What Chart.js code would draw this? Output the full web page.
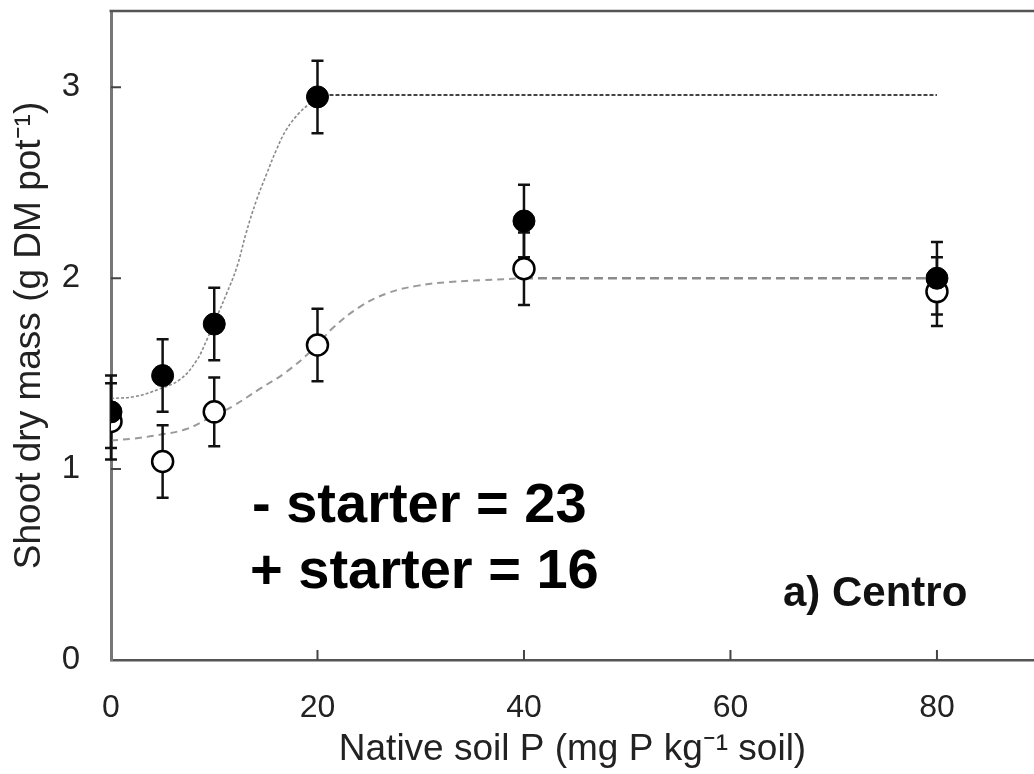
<!DOCTYPE html>
<html>
<head>
<meta charset="utf-8">
<script src="https://cdn.jsdelivr.net/npm/chart.js@4/dist/chart.umd.min.js"></script>
<style>
html,body{margin:0;padding:0;background:#fff;overflow:hidden;}
#wrap{width:1034px;height:774px;position:relative;}
canvas{display:block;}
</style>
</head>
<body>
<div id="wrap"><canvas id="c" width="1034" height="774"></canvas></div>
<script>
// ---- data ----
const soilP = [0, 5, 10, 20, 40, 80];
const withStarter = [1.30, 1.49, 1.76, 2.95, 2.30, 2.00];      // filled circles
const withStarterErr = [0.19, 0.19, 0.19, 0.19, 0.19, 0.19];
const noStarter = [1.25, 1.04, 1.30, 1.65, 2.05, 1.93];        // open circles
const noStarterErr = [0.20, 0.19, 0.18, 0.19, 0.19, 0.18];

const filledCurveX = [0, 2.3, 4.7, 6.7, 8.3, 9.3, 10.1, 11.2, 12.2, 13.1, 14.1, 15.1, 16.0, 17.0, 18.3, 19.6, 20];
const filledCurveY = [1.37, 1.38, 1.42, 1.47, 1.57, 1.68, 1.78, 1.92, 2.06, 2.24, 2.41, 2.55, 2.67, 2.78, 2.87, 2.93, 2.95];
const filledPlateauX = [20, 80];
const filledPlateauY = [2.96, 2.96];

const openCurveX = [0, 2.2, 4.7, 7.3, 9.6, 11.8, 14.4, 17.0, 19.6, 21.5, 24.1, 26.7, 29.6, 32.8, 36, 40];
const openCurveY = [1.15, 1.16, 1.18, 1.21, 1.27, 1.33, 1.42, 1.51, 1.63, 1.74, 1.85, 1.92, 1.96, 1.98, 1.99, 2.00];
const openPlateauX = [40, 80];
const openPlateauY = [2.00, 2.00];

const xTicks = [0, 20, 40, 60, 80];
const yTicks = [0, 1, 2, 3];
const xInnerTicks = [20, 40, 60, 80];
const yInnerTicks = [1, 2, 3];

const xTitle = 'Native soil P (mg P kg\u207B\u00B9 soil)';
const yTitle = 'Shoot dry mass (g DM pot\u207B\u00B9)';
const noteLines = ['- starter = 23', '+ starter = 16'];
const panelLabel = 'a) Centro';

const pts = (xs, ys) => xs.map((x, i) => ({x: x, y: ys[i]}));
const FONT = "'Liberation Sans', Arial, Helvetica, sans-serif";

const errorBars = {
  id: 'errorBars',
  beforeDatasetDraw(chart, args) {
    if (args.index !== 1) return; // draw all bars just before open points
    const ctx = chart.ctx, xs = chart.scales.x, ys = chart.scales.y;
    ctx.save();
    ctx.strokeStyle = '#111';
    ctx.lineWidth = 2.5;
    const draw = (vals, errs) => {
      soilP.forEach((x, i) => {
        const px = xs.getPixelForValue(x);
        const top = ys.getPixelForValue(vals[i] + errs[i]);
        const bot = ys.getPixelForValue(vals[i] - errs[i]);
        ctx.beginPath();
        ctx.moveTo(px, top); ctx.lineTo(px, bot);
        ctx.moveTo(px - 6, top); ctx.lineTo(px + 6, top);
        ctx.moveTo(px - 6, bot); ctx.lineTo(px + 6, bot);
        ctx.stroke();
      });
    };
    draw(noStarter, noStarterErr);
    draw(withStarter, withStarterErr);
    ctx.restore();
  }
};

const frameAndText = {
  id: 'frameAndText',
  afterDraw(chart) {
    const ctx = chart.ctx, a = chart.chartArea, xs = chart.scales.x, ys = chart.scales.y;
    ctx.save();
    // top frame line
    ctx.strokeStyle = '#555';
    ctx.lineWidth = 2.5;
    ctx.beginPath();
    ctx.moveTo(a.left - 1.5, a.top); ctx.lineTo(a.right, a.top);
    ctx.stroke();
    // inward tick marks
    ctx.lineWidth = 2;
    ctx.strokeStyle = '#444';
    ctx.beginPath();
    xInnerTicks.forEach(v => {
      const px = xs.getPixelForValue(v);
      ctx.moveTo(px, a.bottom); ctx.lineTo(px, a.bottom - 10);
    });
    yInnerTicks.forEach(v => {
      const py = ys.getPixelForValue(v);
      ctx.moveTo(a.left, py); ctx.lineTo(a.left + 10, py);
    });
    ctx.stroke();
    // annotation text
    ctx.fillStyle = '#000';
    ctx.textAlign = 'left';
    ctx.textBaseline = 'alphabetic';
    ctx.font = 'bold 56px ' + FONT;
    ctx.fillText(noteLines[0], 252, 522);
    ctx.fillText(noteLines[1], 250, 588);
    ctx.font = 'bold 42px ' + FONT;
    ctx.fillStyle = '#111';
    ctx.fillText(panelLabel, 783, 606);
    ctx.restore();
  }
};

new Chart(document.getElementById('c'), {
  type: 'scatter',
  data: {
    datasets: [
      { label: '+ starter', data: pts(soilP, withStarter), order: 0,
        pointRadius: 11, pointHoverRadius: 11, pointBackgroundColor: '#000', pointBorderColor: '#000', pointBorderWidth: 1, showLine: false },
      { label: '- starter', data: pts(soilP, noStarter), order: 1,
        pointRadius: 10.5, pointHoverRadius: 10.5, pointBackgroundColor: '#fff', pointBorderColor: '#000', pointBorderWidth: 2.5, showLine: false },
      { label: 'fit +', data: pts(filledCurveX, filledCurveY), order: 2, showLine: true, pointRadius: 0,
        borderColor: '#8a8a8a', borderWidth: 1.6, borderDash: [3, 2], tension: 0.4 },
      { label: 'plateau +', data: pts(filledPlateauX, filledPlateauY), order: 3, showLine: true, pointRadius: 0,
        borderColor: '#444', borderWidth: 2, borderDash: [4, 2] },
      { label: 'fit -', data: pts(openCurveX, openCurveY), order: 4, showLine: true, pointRadius: 0,
        borderColor: '#9a9a9a', borderWidth: 2, borderDash: [7, 5], tension: 0.4 },
      { label: 'plateau -', data: pts(openPlateauX, openPlateauY), order: 5, showLine: true, pointRadius: 0,
        borderColor: '#8a8a8a', borderWidth: 2.5, borderDash: [9, 5] }
    ]
  },
  options: {
    responsive: false,
    animation: false,
    devicePixelRatio: 1,
    layout: { autoPadding: false, padding: { top: 11, right: 0, left: 0, bottom: 0 } },
    plugins: { legend: { display: false }, tooltip: { enabled: false } },
    scales: {
      x: {
        type: 'linear', min: 0, max: 89.4,
        afterBuildTicks: s => { s.ticks = xTicks.map(v => ({ value: v })); },
        afterFit: s => { s.height = 114; s.paddingLeft = 0; s.paddingRight = 0; },
        grid: { display: false, drawTicks: false },
        border: { display: true, color: '#555', width: 2.5 },
        ticks: { padding: 29, color: '#222', font: { family: FONT, size: 32 }, maxRotation: 0, autoSkip: false },
        title: { display: true, text: xTitle, color: '#222', font: { family: FONT, size: 37 }, padding: { top: 0, bottom: 2 } }
      },
      y: {
        type: 'linear', min: 0, max: 3.4,
        afterBuildTicks: s => { s.ticks = yTicks.map(v => ({ value: v })); },
        afterFit: s => { s.width = 111; s.paddingTop = 0; s.paddingBottom = 0; },
        grid: { display: false, drawTicks: false },
        border: { display: true, color: '#777', width: 3 },
        ticks: { padding: 31, color: '#222', font: { family: FONT, size: 33 } },
        title: { display: true, text: yTitle, color: '#222', font: { family: FONT, size: 37 }, padding: { top: 8, bottom: 0 } }
      }
    }
  },
  plugins: [errorBars, frameAndText]
});
</script>
</body>
</html>
